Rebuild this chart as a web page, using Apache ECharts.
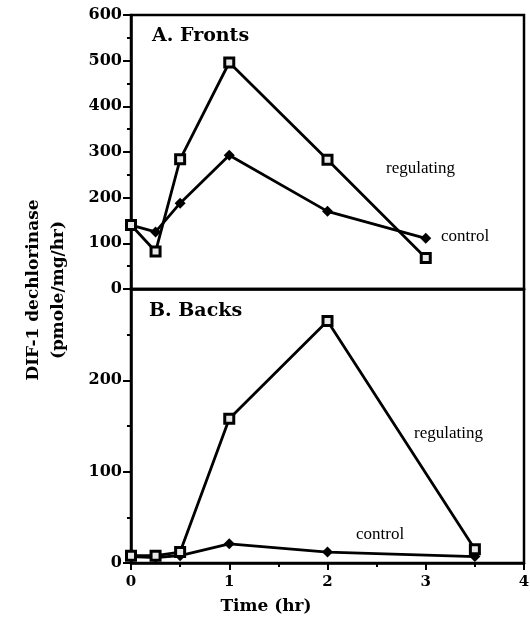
<!DOCTYPE html>
<html><head><meta charset="utf-8">
<script src="https://cdn.jsdelivr.net/npm/echarts@6/dist/echarts.min.js"></script>
<style>html,body{margin:0;padding:0;background:#fff}#c{width:530px;height:625px}</style>
</head><body><div id="c"></div>
<script>
const frontTimes = [0, 0.25, 0.5, 1, 2, 3];
const frontRegulating = [140, 82, 284, 496, 283, 68];
const frontControl = [140, 125, 188, 293, 170, 111];
const backTimes = [0, 0.25, 0.5, 1, 2, 3.5];
const backRegulating = [8, 8, 12, 158, 265, 15];
const backControl = [7, 6, 8, 21, 12, 7];
const topYTicks = [0, 600, 100];
const bottomYTicks = [0, 300, 100];
const xTicks = [0, 4, 1];

const pair = (xs, ys) => xs.map((x, i) => [x, ys[i]]);
const F = 'DejaVu Serif';
const chart = echarts.init(document.getElementById('c'));
const axisCommon = {
  axisLine: {show: true, lineStyle: {color: '#000', width: 2.5}},
  splitLine: {show: false},
};
const lbl = {fontFamily: F, fontWeight: 'bold', fontSize: 16, color: '#000', margin: 9};
const regStyle = {
  type: 'line', symbol: 'rect', symbolSize: 9,
  itemStyle: {color: '#e8e8e8', borderColor: '#000', borderWidth: 3},
  lineStyle: {color: '#000', width: 2.8}, z: 3
};
const ctlStyle = {
  type: 'line', symbol: 'diamond', symbolSize: [11, 11],
  itemStyle: {color: '#000'},
  lineStyle: {color: '#000', width: 2.8}, z: 2
};
chart.setOption({
  animation: false,
  grid: [
    {left: 131, right: 6, top: 15, height: 274, show: true, borderColor: '#000', borderWidth: 2.5, outerBoundsMode: 'none', containLabel: false},
    {left: 131, right: 6, top: 289, height: 274, show: true, borderColor: '#000', borderWidth: 2.5, outerBoundsMode: 'none', containLabel: false}
  ],
  xAxis: [
    Object.assign({gridIndex: 0, type: 'value', min: xTicks[0], max: xTicks[1], interval: xTicks[2],
      axisLabel: {show: false}, axisTick: {show: false}}, axisCommon),
    Object.assign({gridIndex: 1, type: 'value', min: xTicks[0], max: xTicks[1], interval: xTicks[2],
      axisLabel: Object.assign({}, lbl, {fontSize: 15, margin: 12}),
      axisTick: {show: true, length: 7, lineStyle: {color: '#000', width: 2}},
      minorTick: {show: true, splitNumber: 2, length: 4, lineStyle: {color: '#000', width: 2}}}, axisCommon)
  ],
  yAxis: [
    Object.assign({gridIndex: 0, type: 'value', min: topYTicks[0], max: topYTicks[1], interval: topYTicks[2],
      axisLabel: lbl,
      axisTick: {show: true, length: 8, lineStyle: {color: '#000', width: 2}},
      minorTick: {show: true, splitNumber: 2, length: 4, lineStyle: {color: '#000', width: 2}}}, axisCommon),
    Object.assign({gridIndex: 1, type: 'value', min: bottomYTicks[0], max: bottomYTicks[1], interval: bottomYTicks[2],
      axisLabel: Object.assign({}, lbl, {showMaxLabel: false}),
      axisTick: {show: true, length: 8, lineStyle: {color: '#000', width: 2}},
      minorTick: {show: true, splitNumber: 2, length: 4, lineStyle: {color: '#000', width: 2}}}, axisCommon)
  ],
  series: [
    Object.assign({name: 'control A', xAxisIndex: 0, yAxisIndex: 0, data: pair(frontTimes, frontControl)}, ctlStyle),
    Object.assign({name: 'regulating A', xAxisIndex: 0, yAxisIndex: 0, data: pair(frontTimes, frontRegulating)}, regStyle),
    Object.assign({name: 'control B', xAxisIndex: 1, yAxisIndex: 1, data: pair(backTimes, backControl)}, ctlStyle),
    Object.assign({name: 'regulating B', xAxisIndex: 1, yAxisIndex: 1, data: pair(backTimes, backRegulating)}, regStyle)
  ],
  graphic: [
    {type: 'text', left: 152, top: 27, style: {text: 'A. Fronts', font: 'bold 19px "DejaVu Serif"', fill: '#000'}},
    {type: 'text', left: 149, top: 302, style: {text: 'B. Backs', font: 'bold 19px "DejaVu Serif"', fill: '#000'}},
    {type: 'text', left: 386, top: 160, style: {text: 'regulating', font: '17px "Liberation Serif"', fill: '#000'}},
    {type: 'text', left: 441, top: 228, style: {text: 'control', font: '17px "Liberation Serif"', fill: '#000'}},
    {type: 'text', left: 414, top: 425, style: {text: 'regulating', font: '17px "Liberation Serif"', fill: '#000'}},
    {type: 'text', left: 356, top: 526, style: {text: 'control', font: '17px "Liberation Serif"', fill: '#000'}},
    {type: 'text', x: 34, y: 290, rotation: Math.PI / 2, style: {text: 'DIF-1 dechlorinase', font: 'bold 17px "DejaVu Serif"', fill: '#000', align: 'center', verticalAlign: 'middle'}},
    {type: 'text', x: 59, y: 290, rotation: Math.PI / 2, style: {text: '(pmole/mg/hr)', font: 'bold 17px "DejaVu Serif"', fill: '#000', align: 'center', verticalAlign: 'middle'}},
    {type: 'text', x: 266, y: 607, style: {text: 'Time (hr)', font: 'bold 17px "DejaVu Serif"', fill: '#000', align: 'center', verticalAlign: 'middle'}}
  ]
});
</script></body></html>
